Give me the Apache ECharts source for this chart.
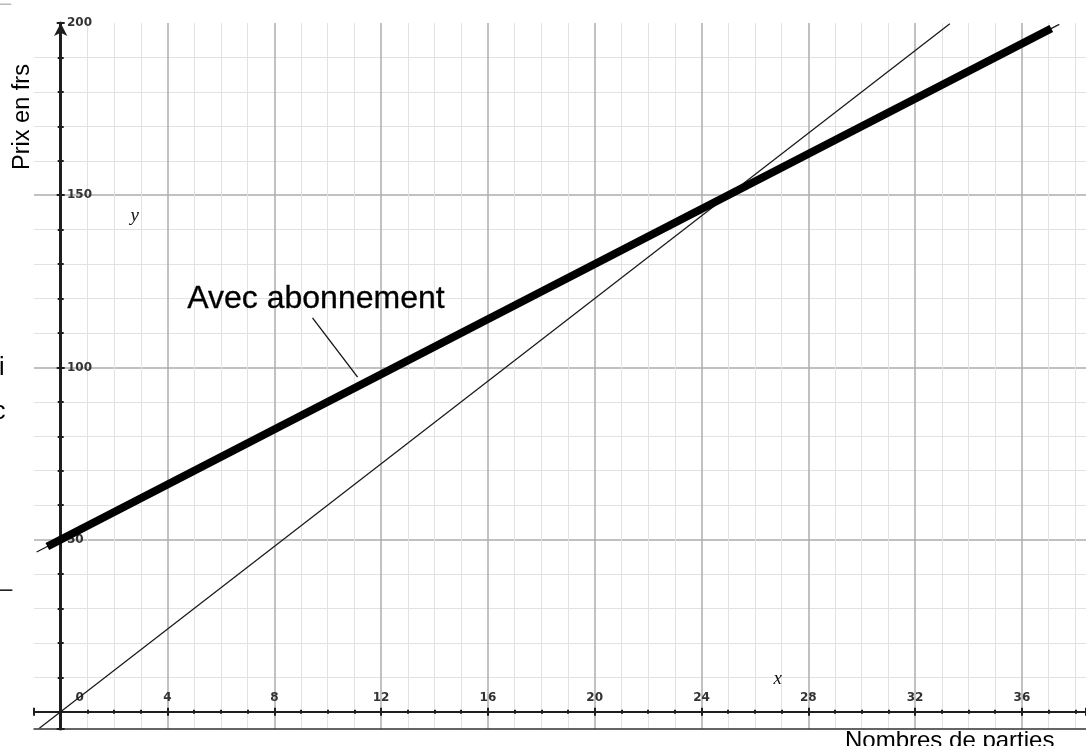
<!DOCTYPE html>
<html>
<head>
<meta charset="utf-8">
<style>
html,body{margin:0;padding:0;background:#ffffff;}
#chart{width:1086px;height:746px;}
</style>
<script src="https://cdn.jsdelivr.net/npm/echarts@6/dist/echarts.min.js"></script>
</head>
<body>
<div id="chart"></div>
<script>
// ---- Axes: ranges and tick labels ----
const xRange = [-1, 38.4];
const yRange = [-5, 200];
const xMajorStep = 4;
const yMajorStep = 50;
const xTickLabels = [0, 4, 8, 12, 16, 20, 24, 28, 32, 36];
const yTickLabels = [50, 100, 150, 200];

// ---- Series values: [nombre de parties, prix en frs] ----
const sansAbonnement = [[-0.8, -4.8], [33.3, 199.8]];
const avecAbonnement = [[-0.5, 48], [37.1, 198.4]];
const avecAbonnementTrait = [[-0.9, 46.4], [37.4, 199.6]];

// ---- Annotations ----
const annotationTexts = ['Avec abonnement'];
const annotationPos = [[9.56, 119.7]];
const leaderLine = [[9.43, 114.4], [11.12, 97.2]];
const axisLetters = ['y', 'x'];
const axisLetterPos = [[2.77, 143.9], [26.85, 9.4]];

const SANS = '"Liberation Sans", Arial, Helvetica, sans-serif';
const TICKFONT = '"DejaVu Sans", Verdana, sans-serif';
const INK = '#1e1e1e';
const MAJOR_GRID = '#adadad';
const MINOR_GRID = '#e2e2e2';

const chart = echarts.init(document.getElementById('chart'), null, {renderer: 'canvas'});

const tickStyle = {color: INK, width: 2};

const option = {
  animation: false,
  backgroundColor: '#ffffff',
  grid: {left: 34, right: 0, top: 23, bottom: 17, containLabel: false, outerBoundsMode: 'none'},
  xAxis: [
    {
      type: 'value', position: 'bottom',
      min: xRange[0], max: xRange[1],
      minInterval: xMajorStep, maxInterval: xMajorStep,
      axisLine: {show: true, onZero: true, onZeroAxisIndex: 0, lineStyle: {color: INK, width: 2}},
      axisTick: {show: true, length: 4, lineStyle: tickStyle},
      minorTick: {show: true, splitNumber: 4, length: 2, lineStyle: tickStyle},
      splitLine: {show: true, showMinLine: false, showMaxLine: false, lineStyle: {color: MAJOR_GRID, width: 1.5}},
      minorSplitLine: {show: true, lineStyle: {color: MINOR_GRID, width: 1}},
      axisLabel: {
        show: true, inside: true, margin: 25,
        color: '#333', fontFamily: TICKFONT, fontWeight: 'bold', fontSize: 12,
        formatter: function (v) {
          if (xTickLabels.indexOf(v) < 0) return '';
          return v === 0 ? '{z|0}' : String(v);
        },
        rich: {z: {padding: [0, 0, 0, 38], color: '#333', fontFamily: TICKFONT, fontWeight: 'bold', fontSize: 12}}
      }
    },
    {
      type: 'value', position: 'top',
      min: xRange[0], max: xRange[1],
      minInterval: xMajorStep, maxInterval: xMajorStep,
      axisLine: {show: false, onZero: true, onZeroAxisIndex: 0},
      axisTick: {show: true, length: 4, lineStyle: tickStyle},
      minorTick: {show: true, splitNumber: 4, length: 2, lineStyle: tickStyle},
      splitLine: {show: false},
      axisLabel: {show: false}
    },
    {
      type: 'value', position: 'bottom',
      min: xRange[0], max: xRange[1],
      axisLine: {show: true, onZero: false, lineStyle: {color: '#333', width: 1.5}},
      axisTick: {show: false},
      splitLine: {show: false},
      axisLabel: {show: false}
    }
  ],
  yAxis: [
    {
      type: 'value', position: 'left',
      min: yRange[0], max: yRange[1],
      minInterval: yMajorStep, maxInterval: yMajorStep,
      axisLine: {show: true, onZero: true, onZeroAxisIndex: 0, symbol: ['none', 'arrow'], symbolSize: [10, 13],
                 lineStyle: {color: INK, width: 3}},
      axisTick: {show: true, length: 4, lineStyle: tickStyle},
      minorTick: {show: true, splitNumber: 5, length: 3, lineStyle: tickStyle},
      splitLine: {show: true, showMinLine: false, showMaxLine: false, lineStyle: {color: MAJOR_GRID, width: 1.5}},
      minorSplitLine: {show: true, lineStyle: {color: MINOR_GRID, width: 1}},
      axisLabel: {
        show: true, inside: true, margin: 33,
        color: '#333', fontFamily: TICKFONT, fontWeight: 'bold', fontSize: 12,
        formatter: function (v) { return yTickLabels.indexOf(v) >= 0 ? String(v) : ''; }
      }
    },
    {
      type: 'value', position: 'right',
      min: yRange[0], max: yRange[1],
      minInterval: yMajorStep, maxInterval: yMajorStep,
      axisLine: {show: false, onZero: true, onZeroAxisIndex: 0},
      axisTick: {show: true, length: 4, lineStyle: tickStyle},
      minorTick: {show: true, splitNumber: 5, length: 3, lineStyle: tickStyle},
      splitLine: {show: false},
      axisLabel: {show: false}
    }
  ],
  series: [
    {
      type: 'line', name: 'Sans abonnement', xAxisIndex: 0, yAxisIndex: 0,
      data: sansAbonnement, symbol: 'none', showSymbol: false, silent: true, z: 3,
      lineStyle: {color: '#1a1a1a', width: 1.3}
    },
    {
      type: 'line', name: 'Avec abonnement (trait)', xAxisIndex: 0, yAxisIndex: 0,
      data: avecAbonnementTrait, symbol: 'none', showSymbol: false, silent: true, z: 3,
      lineStyle: {color: '#1a1a1a', width: 1.3}
    },
    {
      type: 'line', name: 'Avec abonnement', xAxisIndex: 0, yAxisIndex: 0,
      data: avecAbonnement, symbol: 'none', showSymbol: false, silent: true, z: 4,
      lineStyle: {color: '#000000', width: 8, cap: 'butt'},
      markLine: {
        silent: true, symbol: ['none', 'none'], label: {show: false},
        lineStyle: {color: '#111111', width: 1.3, type: 'solid'},
        data: [[{coord: leaderLine[0]}, {coord: leaderLine[1]}]]
      }
    },
    {
      type: 'scatter', name: 'annotations', xAxisIndex: 0, yAxisIndex: 0, silent: true, z: 5,
      symbolSize: 1, itemStyle: {color: 'rgba(0,0,0,0)', opacity: 1},
      data: annotationTexts.map(function (t, i) {
        return {value: annotationPos[i], label: {show: true, position: 'inside', formatter: t,
          color: '#000', fontFamily: SANS, fontSize: 32, textBorderColor: '#000', textBorderWidth: 0.3}};
      }).concat(axisLetters.map(function (t, i) {
        return {value: axisLetterPos[i], label: {show: true, position: 'inside', formatter: t,
          color: '#111', fontFamily: '"Liberation Serif", "Times New Roman", serif', fontStyle: 'italic', fontSize: 19}};
      }))
    }
  ],
  graphic: [
    {type: 'text', x: 23, y: 117, rotation: Math.PI / 2, silent: true,
     style: {text: 'Prix en frs', x: 0, y: 0, align: 'center', verticalAlign: 'middle', textAlign: 'center', textVerticalAlign: 'middle',
             font: '23.5px "Liberation Sans", Arial, sans-serif', fill: '#000'}},
    {type: 'text', x: 845, y: 729, silent: true,
     style: {text: 'Nombres de parties', align: 'left', verticalAlign: 'top', textAlign: 'left', textVerticalAlign: 'top',
             font: '24px "Liberation Sans", Arial, sans-serif', fill: '#000'}},
    {type: 'text', x: -1, y: 356, silent: true,
     style: {text: 'i', align: 'left', verticalAlign: 'top', font: '25px "Liberation Sans", Arial, sans-serif', fill: '#000'}},
    {type: 'text', x: -7, y: 400, silent: true,
     style: {text: 'c', align: 'left', verticalAlign: 'top', font: '25px "Liberation Sans", Arial, sans-serif', fill: '#000'}},
    {type: 'text', x: -1, y: 577, silent: true,
     style: {text: '–', align: 'left', verticalAlign: 'top', font: '24px "Liberation Sans", Arial, sans-serif', fill: '#222'}},
    {type: 'text', x: -1, y: -7, silent: true,
     style: {text: '–', align: 'left', verticalAlign: 'top', font: '22px "Liberation Sans", Arial, sans-serif', fill: '#bbb'}}
  ]
};

chart.setOption(option);
</script>
</body>
</html>
